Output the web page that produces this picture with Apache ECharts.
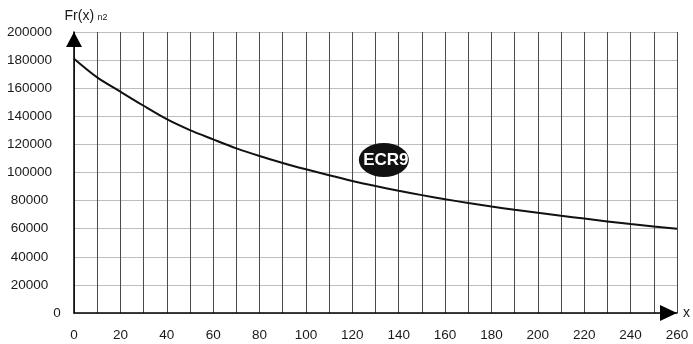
<!DOCTYPE html>
<html>
<head>
<meta charset="utf-8">
<script src="https://cdn.jsdelivr.net/npm/echarts@6/dist/echarts.min.js"></script>
<style>
  html, body { margin: 0; padding: 0; background: #fff; }
  #chart { width: 693px; height: 344px; }
</style>
</head>
<body>
<div id="chart"></div>
<script>
// Permissible load Fr(x) versus distance x
const xValues = [0, 10, 20, 30, 40, 50, 60, 70, 80, 90, 100, 110, 120, 130,
                 140, 150, 160, 170, 180, 190, 200, 210, 220, 230, 240, 250, 260];
const frValues = [181000, 167700, 157500, 147500, 138000, 130200, 123600, 117200,
                  111700, 106800, 102300, 98000, 94000, 90400, 87000, 83900,
                  81000, 78300, 75800, 73500, 71300, 69200, 67200, 65200,
                  63300, 61600, 60000];
const seriesTag = 'ECR9';
const yAxisTitle = 'Fr(x)';
const yAxisUnit = 'n2';
const xAxisTitle = 'x';

const points = xValues.map((x, i) => [x, frValues[i]]);
const font = 'Arial, "Liberation Sans", sans-serif';

const chart = echarts.init(document.getElementById('chart'), null, { renderer: 'canvas' });
chart.setOption({
  animation: false,
  backgroundColor: '#ffffff',
  grid: { left: 74, right: 14, top: 32, bottom: 31, containLabel: false },
  xAxis: {
    type: 'value',
    min: 0, max: 260, interval: 10,
    name: xAxisTitle,
    nameLocation: 'end',
    nameGap: 6,
    nameTextStyle: { color: '#1a1a1a', fontSize: 14, fontFamily: font, verticalAlign: 'middle', padding: [0, 0, 6, 0] },
    axisLine: {
      show: true,
      lineStyle: { color: '#000', width: 1.5 },
      symbol: ['none', 'triangle'],
      symbolSize: [16, 17],
      symbolOffset: [0, -8.5]
    },
    axisTick: { show: false },
    axisLabel: {
      color: '#1a1a1a', fontSize: 13.5, fontFamily: font, margin: 15,
      formatter: v => (v % 20 === 0 ? String(v) : '')
    },
    splitLine: { show: true, lineStyle: { color: '#4a4a4a', width: 1 } }
  },
  yAxis: {
    type: 'value',
    min: 0, max: 200000, interval: 20000,
    name: '{t|' + yAxisTitle + '} {s|' + yAxisUnit + '}',
    nameLocation: 'end',
    nameGap: 9,
    nameTextStyle: {
      align: 'center', padding: [0, 0, 0, 24],
      rich: {
        t: { fontSize: 14, fontFamily: font, color: '#1a1a1a' },
        s: { fontSize: 9, fontFamily: font, color: '#1a1a1a', padding: [3, 0, 0, 0] }
      }
    },
    axisLine: {
      show: true,
      lineStyle: { color: '#000', width: 1.5 },
      symbol: ['none', 'triangle'],
      symbolSize: [16, 15],
      symbolOffset: [0, -7.5]
    },
    axisTick: { show: false },
    axisLabel: {
      color: '#1a1a1a', fontSize: 13.5, fontFamily: font,
      align: 'center', margin: 44.5,
      formatter: v => (v === 0 ? '{z|0}' : String(v)),
      rich: { z: { fontSize: 13.5, fontFamily: font, color: '#1a1a1a', padding: [0, 0, 0, 55] } }
    },
    splitLine: { show: true, lineStyle: { color: '#bdbdbd', width: 1 } }
  },
  series: [{
    type: 'line',
    data: points,
    smooth: 0.3,
    showSymbol: false,
    symbol: 'none',
    lineStyle: { color: '#111', width: 2 },
    markPoint: {
      symbol: 'circle',
      symbolSize: [50, 34],
      itemStyle: { color: '#111' },
      label: {
        show: true, formatter: seriesTag, color: '#fff',
        fontSize: 17, fontWeight: 'bold', fontFamily: font, offset: [2, 0]
      },
      data: [{ coord: [133.6, 108900] }]
    }
  }]
});
</script>
</body>
</html>
